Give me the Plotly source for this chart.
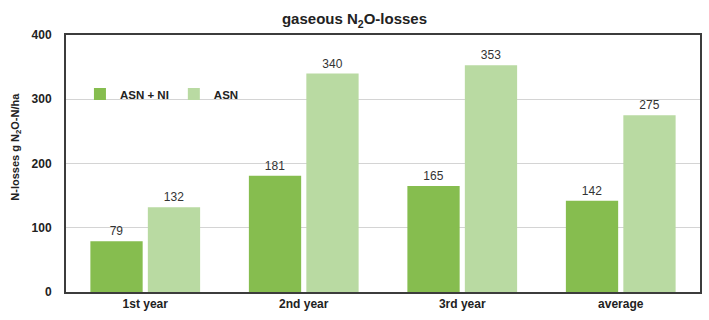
import plotly.graph_objects as go

# Data: gaseous N2O losses (g N2O-N/ha)
categories = ["1st year", "2nd year", "3rd year", "average"]
asn_ni = [79, 181, 165, 142]
asn = [132, 340, 353, 275]
y_ticks = [0, 100, 200, 300, 400]

dark_green = "#86bd4f"
light_green = "#b9daa2"
font_family = "Liberation Sans, Arial, sans-serif"

fig = go.Figure()
fig.add_trace(go.Bar(
    x=categories, y=asn_ni, name="<b>ASN + NI</b>",
    marker=dict(color=dark_green, line=dict(width=0)),
    text=asn_ni, textposition="outside",
    textfont=dict(size=12, color="#333333", family=font_family),
    cliponaxis=False,
))
fig.add_trace(go.Bar(
    x=categories, y=asn, name="<b>ASN</b>",
    marker=dict(color=light_green, line=dict(width=0)),
    text=asn, textposition="outside",
    textfont=dict(size=12, color="#333333", family=font_family),
    cliponaxis=False,
))

fig.update_layout(
    width=709, height=320,
    margin=dict(l=66, r=7, t=35, b=28),
    paper_bgcolor="white", plot_bgcolor="white",
    font=dict(family=font_family, color="#222222"),
    barmode="group", bargap=0.275, bargroupgap=0.09,
    title=dict(text="<b>gaseous N<sub>2</sub>O-losses</b>",
               x=0.5, xanchor="center", y=0.94, yanchor="middle",
               font=dict(size=15, color="#222222")),
    legend=dict(orientation="h", x=0.022, xanchor="left",
                y=0.77, yanchor="middle", bgcolor="rgba(0,0,0,0)",
                font=dict(size=11.5, color="#222222"),
                itemwidth=30, traceorder="normal"),
    showlegend=True,
)

# Y-axis title placed as a rotated annotation
fig.add_annotation(
    text="<b>N-losses g N<sub>2</sub>O-N/ha</b>", textangle=-90,
    xref="paper", yref="paper", x=-0.079, y=0.565,
    xanchor="center", yanchor="middle", showarrow=False,
    font=dict(size=11, color="#222222"),
)

fig.update_xaxes(
    showline=True, linecolor="#3c3c3c", linewidth=2, mirror=True,
    showgrid=False, ticks="", tickfont=dict(size=12, color="#222222"),
    tickvals=categories, ticktext=[f"<b>{c}</b>" for c in categories],
)
fig.update_yaxes(
    range=[0, 400], tickvals=y_ticks,
    ticktext=[f"<b>{v}</b>" for v in y_ticks],
    showline=True, linecolor="#3c3c3c", linewidth=2, mirror=True,
    showgrid=True, gridcolor="#d4d4d4", gridwidth=1, zeroline=False,
    ticks="", ticklabelstandoff=10, tickfont=dict(size=12, color="#222222"),
)

fig.write_html("out.html")
